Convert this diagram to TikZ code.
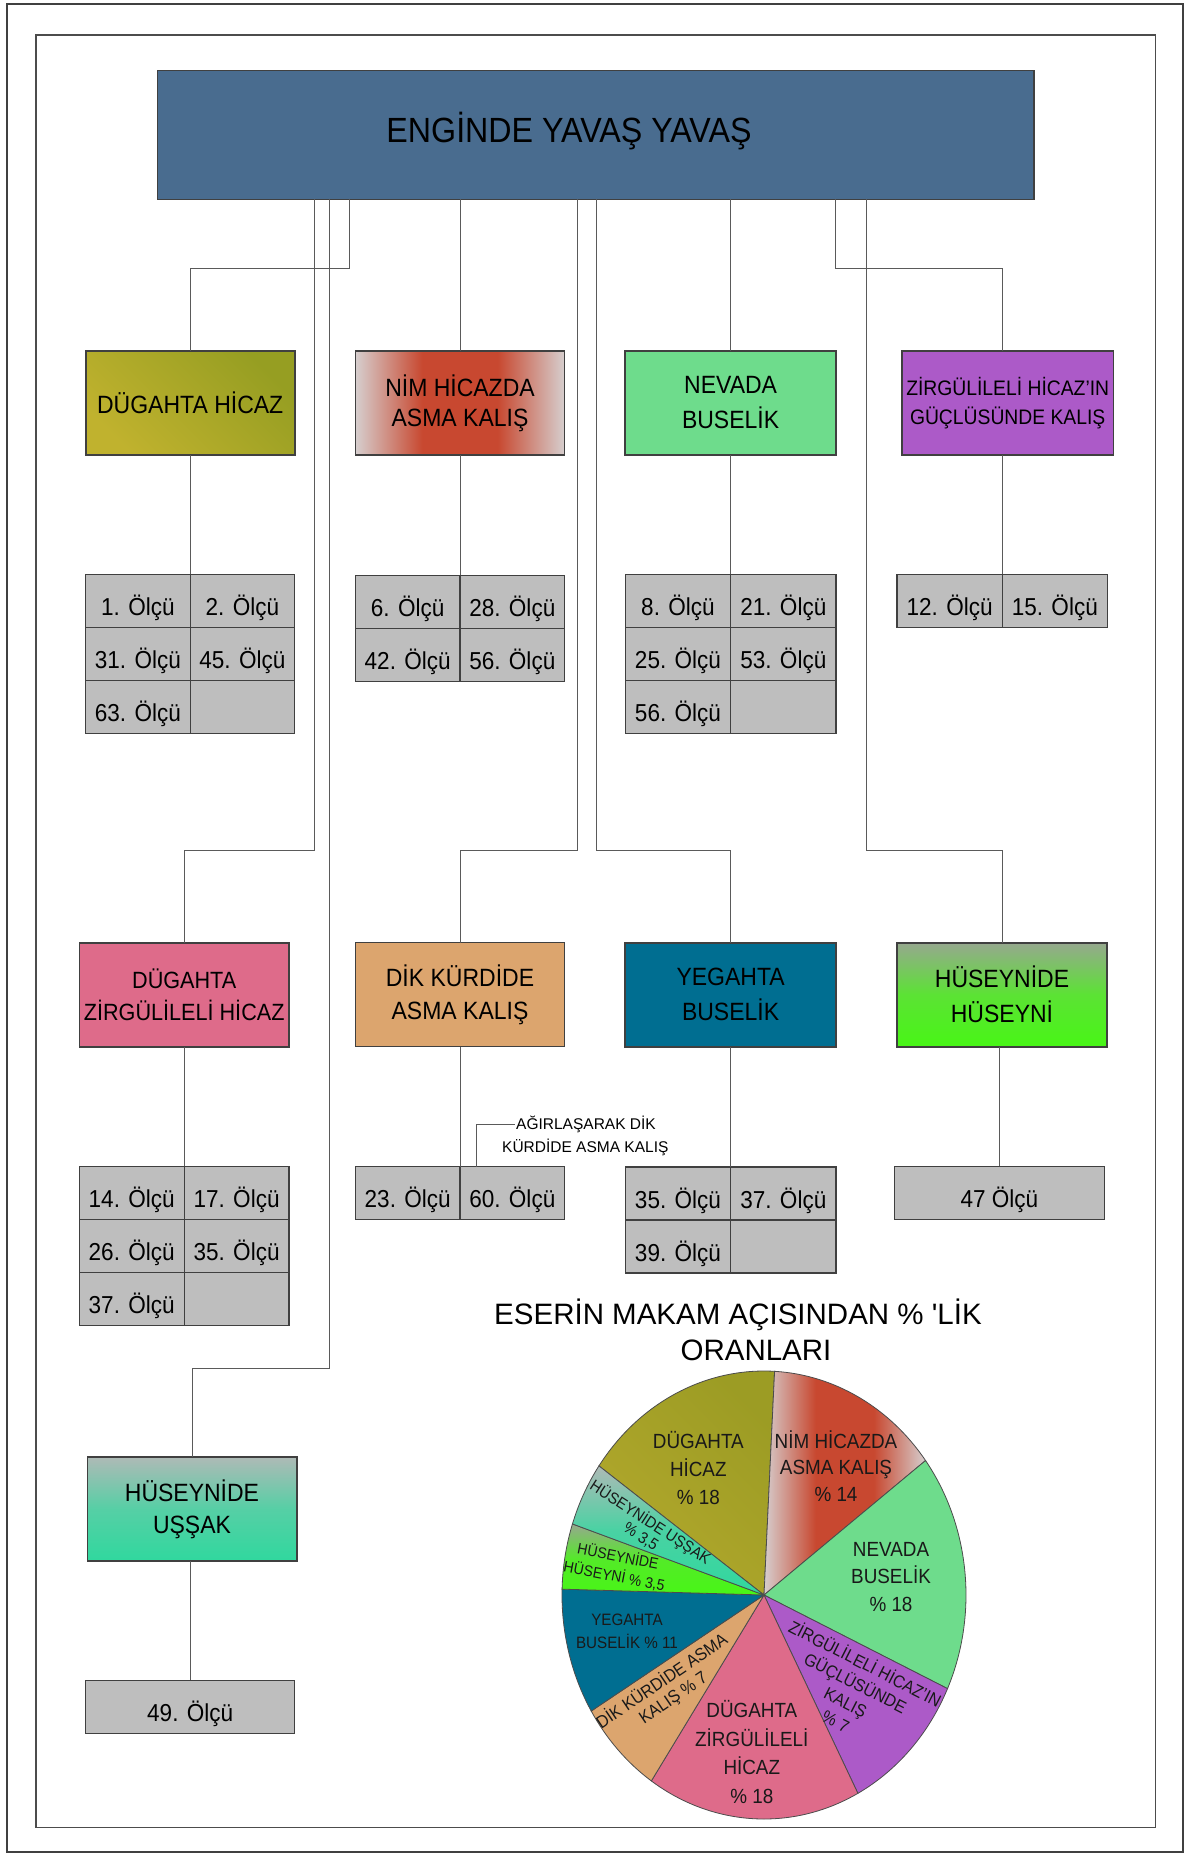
\documentclass[tikz,border=0pt]{standalone}
\usepackage{fontspec}
\setmainfont{Liberation Sans}[FakeStretch=0.92]
\newfontfamily\plainsans{Liberation Sans}
\usetikzlibrary{calc}

\definecolor{titlebg}{RGB}{73,108,143}
\definecolor{oliveA}{RGB}{150,158,34}
\definecolor{oliveB}{RGB}{192,178,46}
\definecolor{pieoliveA}{RGB}{156,156,36}
\definecolor{pieoliveB}{RGB}{178,168,44}
\definecolor{nimgrey}{RGB}{214,206,206}
\definecolor{nimred}{RGB}{200,72,48}
\definecolor{nevada}{RGB}{110,220,140}
\definecolor{zirg}{RGB}{172,90,200}
\definecolor{dugz}{RGB}{222,107,138}
\definecolor{dikc}{RGB}{220,165,110}
\definecolor{yegc}{RGB}{0,110,145}
\definecolor{husA}{RGB}{150,168,142}
\definecolor{husB}{RGB}{72,246,22}
\definecolor{ussA}{RGB}{174,186,182}
\definecolor{ussB}{RGB}{48,216,158}
\definecolor{cellgrey}{RGB}{190,190,190}
\definecolor{edgecol}{RGB}{64,64,64}
\definecolor{wirecol}{RGB}{90,90,90}

% grey edges, red core
\pgfdeclarehorizontalshading{nimshade}{100bp}{color(0bp)=(nimgrey); color(25bp)=(nimgrey); color(41bp)=(nimred); color(59bp)=(nimred); color(75bp)=(nimgrey); color(100bp)=(nimgrey)}

\newcommand{\fs}[2]{\fontsize{#1pt}{#2pt}\selectfont}
\newcommand{\pieslice}[3]{\path[#3] (pc) -- ++(#1:202 and 224) arc[start angle=#1, end angle=#2, x radius=202, y radius=224] -- cycle;}

\begin{document}
\begin{tikzpicture}[x=1pt,y=-1pt,
  wire/.style={draw=wirecol, line width=1pt},
  boxnode/.style={draw=edgecol, line width=1.6pt, inner sep=0pt, outer sep=0pt, align=center,
    minimum width=210pt, minimum height=104pt, text=black},
  cell/.style={draw=edgecol, fill=cellgrey, line width=1.3pt, inner sep=0pt, outer sep=0pt,
    anchor=north west, minimum height=53pt, text height=29pt, text depth=0pt, font=\fs{24.5}{29}},
  slice/.style={draw=black!70, line width=0.8pt},
  pielbl/.style={inner sep=0pt, align=center, text=black!90}
]
\useasboundingbox (0,0) rectangle (1188,1857);
\fill[white] (0,0) rectangle (1188,1857);

% page frames
\draw[draw=black!75, line width=1.5pt] (7,4) rectangle (1183,1852);
\draw[draw=black!70, line width=1.3pt] (36,35) rectangle (1155.7,1827.7);

% ---------- title ----------
\node[draw=edgecol, line width=1.6pt, fill=titlebg, minimum width=876.4pt, minimum height=128.6pt,
  inner sep=0pt, outer sep=0pt] (title) at (595.8,135) {};
\node[font=\fs{35}{40}, inner sep=0pt] (titletext) at (569,131.5) {ENGİNDE YAVAŞ YAVAŞ};

% ---------- first row of makam boxes ----------
\node[boxnode, minimum width=209pt, shade, top color=oliveA, bottom color=oliveB, shading angle=-45,
  font=\fs{25}{30}] (dh) at (190.2,403) {DÜGAHTA HİCAZ};
\node[boxnode, minimum width=209.2pt, shade, shading=nimshade, font=\fs{25}{30}] (nim) at (460,403)
  {NİM HİCAZDA\\ASMA KALIŞ};
\node[boxnode, minimum width=210.7pt, fill=nevada, font=\fs{25}{35}] (nev) at (730.6,403)
  {NEVADA\\BUSELİK};
\node[boxnode, minimum width=211.4pt, fill=zirg, font=\fs{21}{28.4}] (zir) at (1007.7,403)
  {ZİRGÜLİLELİ HİCAZ'IN\\GÜÇLÜSÜNDE KALIŞ};

% ---------- second row of makam boxes ----------
\node[boxnode, minimum width=209.7pt, fill=dugz, font=\fs{23.5}{32}] (dugz) at (184.2,994.7)
  {DÜGAHTA\\ZİRGÜLİLELİ HİCAZ};
\node[boxnode, minimum width=209.2pt, fill=dikc, font=\fs{25}{33}] (dik) at (460,994.5)
  {DİK KÜRDİDE\\ASMA KALIŞ};
\node[boxnode, minimum width=210.7pt, fill=yegc, font=\fs{25}{35}] (yeg) at (730.6,994.7)
  {YEGAHTA\\BUSELİK};
\node[boxnode, minimum width=210pt, shade, top color=husA, bottom color=husB, middle color=husB!75!husA,
  font=\fs{25}{35}] (hus) at (1002,994.7) {HÜSEYNİDE\\HÜSEYNİ};

% ---------- third row ----------
\node[boxnode, minimum width=209.4pt, shade, top color=ussA, bottom color=ussB, middle color=ussB!70!ussA,
  font=\fs{25}{32.4}] (uss) at (192,1509) {HÜSEYNİDE\\UŞŞAK};

% ---------- measure tables ----------
\node[cell, minimum width=104.45pt] (a1) at (85.7,574.3) {1. Ölçü};
\node[cell, minimum width=104.45pt] (a2) at (a1.north east) {2. Ölçü};
\node[cell, minimum width=104.45pt] (a3) at (a1.south west) {31. Ölçü};
\node[cell, minimum width=104.45pt] (a4) at (a3.north east) {45. Ölçü};
\node[cell, minimum width=104.45pt] (a5) at (a3.south west) {63. Ölçü};
\node[cell, minimum width=104.45pt] (a6) at (a5.north east) {};

\node[cell, minimum width=104.6pt] (b1) at (355.4,575.3) {6. Ölçü};
\node[cell, minimum width=104.6pt] (b2) at (b1.north east) {28. Ölçü};
\node[cell, minimum width=104.6pt] (b3) at (b1.south west) {42. Ölçü};
\node[cell, minimum width=104.6pt] (b4) at (b3.north east) {56. Ölçü};

\node[cell, minimum width=105.35pt] (c1) at (625.3,574.3) {8. Ölçü};
\node[cell, minimum width=105.35pt] (c2) at (c1.north east) {21. Ölçü};
\node[cell, minimum width=105.35pt] (c3) at (c1.south west) {25. Ölçü};
\node[cell, minimum width=105.35pt] (c4) at (c3.north east) {53. Ölçü};
\node[cell, minimum width=105.35pt] (c5) at (c3.south west) {56. Ölçü};
\node[cell, minimum width=105.35pt] (c6) at (c5.north east) {};

\node[cell, minimum width=105.2pt] (d1) at (897,574.3) {12. Ölçü};
\node[cell, minimum width=105.2pt] (d2) at (d1.north east) {15. Ölçü};

\node[cell, minimum width=104.85pt] (e1) at (79.3,1166.4) {14. Ölçü};
\node[cell, minimum width=104.85pt] (e2) at (e1.north east) {17. Ölçü};
\node[cell, minimum width=104.85pt] (e3) at (e1.south west) {26. Ölçü};
\node[cell, minimum width=104.85pt] (e4) at (e3.north east) {35. Ölçü};
\node[cell, minimum width=104.85pt] (e5) at (e3.south west) {37. Ölçü};
\node[cell, minimum width=104.85pt] (e6) at (e5.north east) {};

\node[cell, minimum width=104.6pt] (f1) at (355.4,1166.8) {23. Ölçü};
\node[cell, minimum width=104.6pt] (f2) at (f1.north east) {60. Ölçü};

\node[cell, minimum width=105.35pt] (g1) at (625.3,1167) {35. Ölçü};
\node[cell, minimum width=105.35pt] (g2) at (g1.north east) {37. Ölçü};
\node[cell, minimum width=105.35pt] (g3) at (g1.south west) {39. Ölçü};
\node[cell, minimum width=105.35pt] (g4) at (g3.north east) {};

\node[cell, minimum width=209.9pt] (h1) at (894.4,1166.3) {47 Ölçü};
\node[cell, minimum width=209pt, minimum height=53.4pt] (i1) at (85.7,1680.3) {49. Ölçü};

% ---------- connectors from the title ----------
\coordinate (ja) at (349,268.3);
\coordinate (jz) at (835,268.3);
\coordinate (jb) at (314.4,850);
\coordinate (jc) at (577,850);
\coordinate (jd) at (596,850);
\coordinate (je) at (866.5,850);
\coordinate (jf) at (329.5,1368.3);

\draw[wire] (title.south -| ja) -- (ja) -| (dh.north);
\draw[wire] (title.south -| nim.north) -- (nim.north);
\draw[wire] (title.south -| nev.north) -- (nev.north);
\draw[wire] (title.south -| jz) -- (jz) -| (zir.north -| d1.north east);
\draw[wire] (title.south -| jb) -- (jb) -| (dugz.north);
\draw[wire] (title.south -| jc) -- (jc) -| (dik.north);
\draw[wire] (title.south -| jd) -- (jd) -| (yeg.north);
\draw[wire] (title.south -| je) -- (je) -| (hus.north);
\draw[wire] (title.south -| jf) -- (jf) -| (uss.north);

% ---------- connectors from boxes to tables ----------
\draw[wire] (a1.north east |- dh.south) -- (a1.north east);
\draw[wire] (b1.north east |- nim.south) -- (b1.north east);
\draw[wire] (c1.north east |- nev.south) -- (c1.north east);
\draw[wire] (d1.north east |- zir.south) -- (d1.north east);
\draw[wire] (e1.north east |- dugz.south) -- (e1.north east);
\draw[wire] (f1.north east |- dik.south) -- (f1.north east);
\draw[wire] (g1.north east |- yeg.south) -- (g1.north east);
\draw[wire] (h1.north |- hus.south) -- (h1.north);
\draw[wire] (i1.north |- uss.south) -- (i1.north);

% ---------- note on measure 60 ----------
\node[font=\plainsans\fs{15.5}{20}, inner sep=0.6pt, anchor=base] (note1) at (586,1129.3) {AĞIRLAŞARAK DİK};
\node[font=\plainsans\fs{15.5}{20}, inner sep=0.6pt, anchor=base] (note2) at (585.3,1152.7) {KÜRDİDE ASMA KALIŞ};
\draw[wire] ($(f2.north west)+(16.4,0)$) |- (note1.west);

% ---------- pie chart ----------
\node[font=\plainsans\fs{29.5}{30}, inner sep=0pt, anchor=base] (pietitle1) at (738,1324)
  {ESERİN MAKAM AÇISINDAN \% 'LİK};
\node[font=\plainsans\fs{29.5}{30}, inner sep=0pt, anchor=base] (pietitle2) at (756,1360)
  {ORANLARI};

\coordinate (pc) at (764,1595);
\pieslice{215.2}{273}{slice, shade, top color=pieoliveA, bottom color=pieoliveB, shading angle=-45}
\pieslice{-87}{-36.9}{slice, shade, shading=nimshade}
\pieslice{-36.9}{24.7}{slice, fill=nevada}
\pieslice{24.7}{62.3}{slice, fill=zirg}
\pieslice{62.3}{123.9}{slice, fill=dugz}
\pieslice{123.9}{148.8}{slice, fill=dikc}
\pieslice{148.8}{181.5}{slice, fill=yegc}
\pieslice{181.5}{198.5}{slice, shade, top color=husA, bottom color=husB, middle color=husB!85!husA}
\pieslice{198.5}{215.2}{slice, shade, top color=ussA, bottom color=ussB, middle color=ussB!80!ussA}

\node[pielbl, font=\fs{20.5}{28}] (p1) at (698.3,1468) {DÜGAHTA\\HİCAZ\\\% 18};
\node[pielbl, font=\fs{20.5}{26.5}] (p2) at (836,1466) {NİM HİCAZDA\\ASMA KALIŞ\\\% 14};
\node[pielbl, font=\fs{20.5}{27.2}] (p3) at (891,1577) {NEVADA\\BUSELİK\\\% 18};
\node[pielbl, font=\fs{17.4}{21.5}, rotate=-27] (p4) at (851,1691.5)
  {ZİRGÜLİLELİ HİCAZ'IN\\GÜÇLÜSÜNDE\\KALIŞ\\\% 7};
\node[pielbl, font=\fs{20.5}{28.5}] (p5) at (751.8,1752) {DÜGAHTA\\ZİRGÜLİLELİ\\HİCAZ\\\% 18};
\node[pielbl, font=\fs{17.5}{20}, rotate=34] (p6) at (667.5,1689.5) {DİK KÜRDİDE ASMA\\KALIŞ \% 7};
\node[pielbl, font=\fs{16.5}{23.4}] (p7) at (627,1631) {YEGAHTA\\BUSELİK \% 11};
\node[pielbl, font=\fs{15.3}{20}, rotate=-11] (p8) at (616.2,1566) {HÜSEYNİDE\\HÜSEYNİ \% 3,5};
\node[pielbl, font=\fs{16}{17}, rotate=-33] (p9) at (646,1529) {HÜSEYNİDE UŞŞAK\\\% 3,5};
\end{tikzpicture}
\end{document}
